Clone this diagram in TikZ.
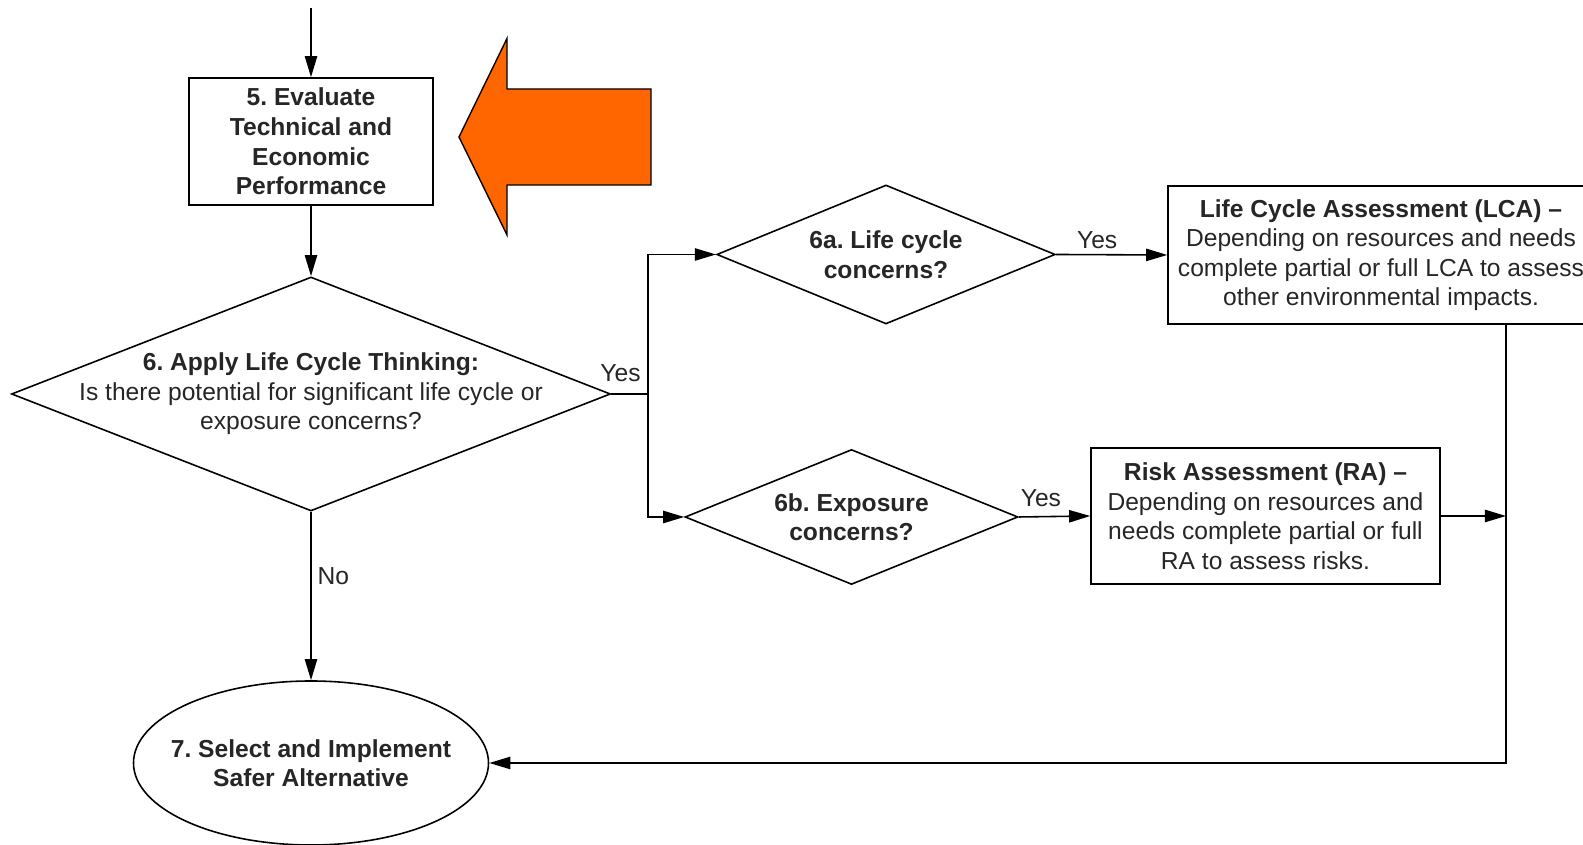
\documentclass[tikz,border=0pt]{standalone}
\usepackage{fontspec}
\setmainfont{Liberation Sans}
\usetikzlibrary{shapes,arrows.meta,positioning}
\definecolor{alertorange}{HTML}{FF6600}
\newcommand{\flowfont}{\fontsize{14}{16.8}\selectfont}
\frenchspacing

\begin{document}
\begin{tikzpicture}[
  every node/.style={font=\flowfont, text=black!85},
  box/.style={rectangle, draw, line width=0.9pt, align=center, inner sep=0pt},
  decision/.style={diamond, draw, line width=0.9pt, inner sep=0pt},
  terminal/.style={ellipse, draw, line width=0.9pt, inner sep=0pt},
  txt/.style={align=center},
  flow/.style={-{Triangle[length=12pt,width=7pt]}, line width=0.9pt}]
\clip (0,0) rectangle (31.66,16.9);

% Step 5
\coordinate (entry) at (6.22,16.74);
\node[box, font=\flowfont\bfseries, minimum width=4.88cm, minimum height=2.54cm] (evaluate) at (6.22,14.07) {5. Evaluate\\Technical and\\Economic\\Performance};

% Orange pointer
\filldraw[fill=alertorange, line width=0.8pt] (9.18,14.16) -- (10.14,16.13) -- (10.14,15.12) -- (13.02,15.12) -- (13.02,13.20) -- (10.14,13.20) -- (10.14,12.20) -- cycle;

% Step 6
\node[decision, minimum width=11.98cm, minimum height=4.68cm,
  label={[txt]center:{\textbf{6. Apply Life Cycle Thinking:}\\Is there potential for significant life cycle or\\exposure concerns?}}] (apply) at (6.22,9.02) {};
\coordinate (branch) at (12.96,9.02);

% 6a and 6b
\node[decision, minimum width=6.77cm, minimum height=2.78cm,
  label={[txt, font=\flowfont\bfseries]center:{6a. Life cycle\\concerns?}}] (lcq) at (17.72,11.81) {};
\node[decision, minimum width=6.66cm, minimum height=2.70cm,
  label={[txt, font=\flowfont\bfseries]center:{6b. Exposure\\concerns?}}] (exq) at (17.03,6.56) {};

% Assessments
\node[box, minimum width=8.52cm, minimum height=2.77cm] (lca) at (27.62,11.80) {\textbf{Life Cycle Assessment (LCA) --}\\Depending on resources and needs\\complete partial or full LCA to assess\\other environmental impacts.};
\node[box, minimum width=6.98cm, minimum height=2.73cm] (ra) at (25.31,6.58) {\textbf{Risk Assessment (RA) --}\\Depending on resources and\\needs complete partial or full\\RA to assess risks.};

% Step 7
\node[terminal, minimum width=7.1cm, minimum height=3.28cm,
  label={[txt, font=\flowfont\bfseries]center:{7. Select and Implement\\Safer Alternative}}] (select) at (6.22,1.64) {};
\coordinate (drop) at (30.12,1.64);

% Connectors
\draw[flow] (entry) -- (evaluate);
\draw[flow] (evaluate) -- (apply);
\draw[line width=0.9pt] (apply.east) -- node[pos=.25, above, yshift=3pt] {Yes} (branch);
\draw[flow] (branch) |- (lcq.west);
\draw[flow] (branch) |- (exq.west);
\draw[flow] (lcq.east) -- node[pos=.37, above, inner sep=3pt] {Yes} (lca.west);
\draw[flow] (exq.east) -- node[pos=.31, above, yshift=2pt] {Yes} (ra.west);
\draw[flow] (ra.east) -- (ra.east -| drop);
\draw[flow] (lca.south -| drop) -- (drop) -- (select.east);
\draw[flow] (apply.south) -- node[pos=.38, right] {No} (select.north);
\end{tikzpicture}
\end{document}
